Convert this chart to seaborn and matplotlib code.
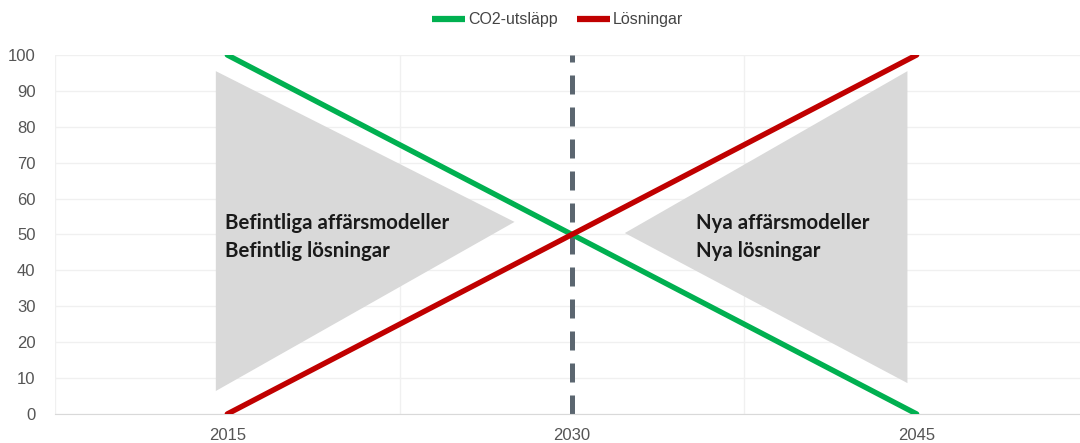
import pandas as pd
import numpy as np
import matplotlib.pyplot as plt
import seaborn as sns

# data
years = [2015, 2030, 2045]
co2 = [100, 50, 0]
losningar = [0, 50, 100]

# grey arrow-triangles (x in years, y in values)
tri_left_x = [2014.5, 2027.5, 2014.5]
tri_left_y = [95.5, 53.5, 6.4]
tri_right_x = [2044.6, 2032.3, 2044.6]
tri_right_y = [95.5, 50.4, 8.6]

text_left = "Befintliga affärsmodeller\nBefintlig lösningar"
text_right = "Nya affärsmodeller\nNya lösningar"

df = pd.DataFrame({
    'år': years * 2,
    'värde': co2 + losningar,
    'serie': ['CO2-utsläpp'] * 3 + ['Lösningar'] * 3,
})

sns.set_style('white')
plt.rcParams['font.family'] = ['Liberation Sans', 'DejaVu Sans']

fig = plt.figure(figsize=(10.8, 4.43), dpi=100)
ax = fig.add_axes([0.0509, 0.0655, 0.9574, 0.8104])

# grey triangles behind
ax.fill(tri_left_x, tri_left_y, color='#d9d9d9', lw=0, zorder=1)
ax.fill(tri_right_x, tri_right_y, color='#d9d9d9', lw=0, zorder=1)

# dashed 2030 marker
ax.plot([2030, 2030], [0, 100], color='#5b6670', lw=3.6,
        dashes=(3.8, 2.6), solid_capstyle='butt', dash_capstyle='butt', zorder=2)

sns.lineplot(data=df, x='år', y='värde', hue='serie',
             palette={'CO2-utsläpp': '#00b050', 'Lösningar': '#c00000'},
             lw=3.9, ax=ax, zorder=3)
for ln in ax.get_lines()[1:]:
    ln.set_solid_capstyle('round')

ax.text(2014.9, 49.3, text_left, fontsize=14.7, fontweight='bold', family=['Lato', 'DejaVu Sans'],
        color='#1a1a1a', va='center', ha='left', linespacing=1.5, zorder=4)
ax.text(2035.4, 49.3, text_right, fontsize=14.7, fontweight='bold', family=['Lato', 'DejaVu Sans'],
        color='#1a1a1a', va='center', ha='left', linespacing=1.5, zorder=4)

ax.set_xlim(2007.5, 2052.5)
ax.set_ylim(0, 100)
ax.set_xticks(years)
ax.set_xticks([2007.5, 2022.5, 2037.5, 2052.5], minor=True)
ax.set_yticks(np.arange(0, 101, 10))
ax.grid(axis='y', which='major', color='#f0f0f0', lw=1)
ax.grid(axis='x', which='minor', color='#f0f0f0', lw=1)
ax.grid(axis='x', which='major', visible=False)
ax.tick_params(which='both', length=0, labelsize=12, labelcolor='#555555')
ax.tick_params(axis='x', pad=10)
ax.tick_params(axis='y', pad=14)
for s in ['left', 'right', 'top']:
    ax.spines[s].set_visible(False)
ax.spines['bottom'].set_color('#d9d9d9')
ax.set_xlabel('')
ax.set_ylabel('')

handles, labels = ax.get_legend_handles_labels()
ax.legend_.remove()
leg = fig.legend(handles, labels, loc='center', bbox_to_anchor=(0.516, 0.955), ncol=2,
                 frameon=False, fontsize=11.5, handlelength=2.1, handletextpad=0.15,
                 columnspacing=1.2, labelcolor='#444444')
for h in leg.get_lines():
    h.set_linewidth(4.5)
    h.set_solid_capstyle('butt')

fig.savefig('out.png', dpi=100)
